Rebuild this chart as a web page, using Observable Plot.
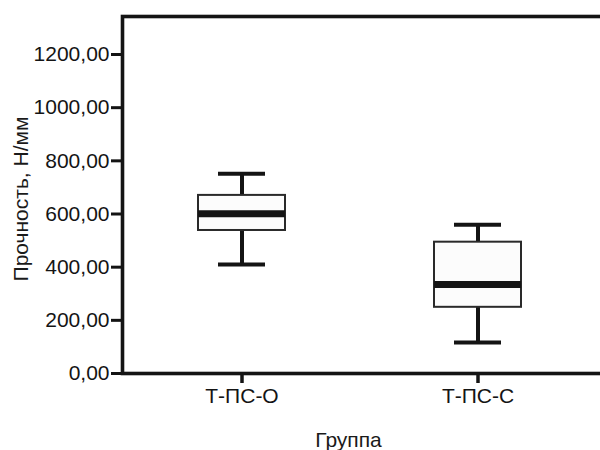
<!DOCTYPE html>
<html>
<head>
<meta charset="utf-8">
<script src="https://cdn.jsdelivr.net/npm/d3@7"></script>
<script src="https://cdn.jsdelivr.net/npm/@observablehq/plot@0.6"></script>
<style>
  html, body { margin: 0; padding: 0; background: #fff; overflow: hidden; }
  #chart { width: 600px; height: 450px; overflow: hidden; }
  #chart svg { overflow: hidden; }
</style>
</head>
<body>
<div id="chart"></div>
<script>
const groups = ["Т-ПС-О", "Т-ПС-С"];
const lower  = [410, 117];
const q1     = [538, 249];
const median = [601, 335];
const q3     = [670, 494];
const upper  = [751, 560];
const yTicks = [0, 200, 400, 600, 800, 1000, 1200];
const yLabel = "Прочность, Н/мм";
const xLabel = "Группа";

const data = groups.map((g, i) => ({
  group: g, lo: lower[i], q1: q1[i], med: median[i], q3: q3[i], hi: upper[i]
}));

const font = "Arial, 'Liberation Sans', sans-serif";
const ink = "#141414";

const chart = Plot.plot({
  width: 600,
  height: 450,
  marginLeft: 122,
  marginRight: -4,
  marginTop: 16,
  marginBottom: 77,
  style: { fontFamily: font, fontSize: "21px", color: ink, background: "#fff" },
  x: { type: "band", domain: groups, range: [197.75, 521.75], paddingInner: 0.63, paddingOuter: 0 },
  y: { domain: [0, 1343] },
  marks: [
    Plot.axisY({
      ticks: yTicks, tickSize: 11, tickPadding: 2, strokeWidth: 3, stroke: ink,
      tickFormat: d => d.toFixed(2).replace(".", ","), fontSize: 21, label: null
    }),
    Plot.axisX({
      tickSize: 10, tickPadding: 5, strokeWidth: 3.5, stroke: ink, fontSize: 21, label: null
    }),
    Plot.ruleX(data, { x: "group", y1: "q3", y2: "hi", stroke: ink, strokeWidth: 4 }),
    Plot.ruleX(data, { x: "group", y1: "lo", y2: "q1", stroke: ink, strokeWidth: 4 }),
    Plot.barY(data, { x: "group", y1: "q1", y2: "q3", fill: "#fcfcfc", stroke: "#2a2a2a", strokeWidth: 2 }),
    Plot.tickY(data, { x: "group", y: "med", stroke: ink, strokeWidth: 7 }),
    Plot.tickY(data, { x: "group", y: "hi", stroke: ink, strokeWidth: 4, insetLeft: 20, insetRight: 20 }),
    Plot.tickY(data, { x: "group", y: "lo", stroke: ink, strokeWidth: 4, insetLeft: 20, insetRight: 20 }),
    Plot.frame({ stroke: ink, strokeWidth: 3.6 }),
    Plot.text([yLabel], {
      text: d => d, frameAnchor: "left", rotate: -90, lineAnchor: "middle", textAnchor: "middle",
      dx: -101.7, dy: 4, fontSize: 21, fill: "#1a1a1a"
    }),
    Plot.text([xLabel], {
      text: d => d, frameAnchor: "bottom", lineAnchor: "middle", textAnchor: "middle",
      dx: -15, dy: 66.8, fontSize: 21, fill: "#1a1a1a"
    })
  ]
});
document.getElementById("chart").appendChild(chart);
</script>
</body>
</html>
